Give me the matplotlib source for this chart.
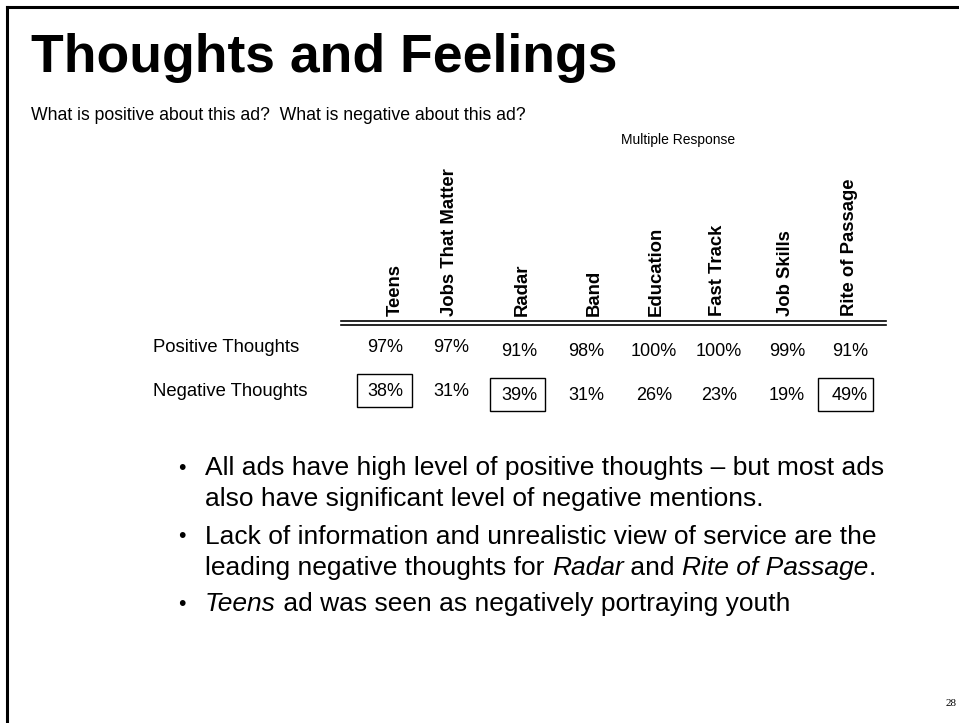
import matplotlib
matplotlib.use("Agg")
import matplotlib.pyplot as plt
from matplotlib.patches import Rectangle

plt.rcParams['font.family'] = ['Liberation Sans', 'DejaVu Sans']

# table contents
ads = ['Teens', 'Jobs That Matter', 'Radar', 'Band', 'Education',
       'Fast Track', 'Job Skills', 'Rite of Passage']
positive = [97, 97, 91, 98, 100, 100, 99, 91]
negative = [38, 31, 39, 31, 26, 23, 19, 49]
flagged = [True, False, True, False, False, False, False, True]
row_labels = ['Positive Thoughts', 'Negative Thoughts']

title = 'Thoughts and Feelings'
question = 'What is positive about this ad?  What is negative about this ad?'
note = 'Multiple Response'
page_no = '28'

# bullet text, split into (text, style) runs so ad names can be italic
bullets = [
    [[('All ads have high level of positive thoughts \u2013 but most ads', 'normal')],
     [('also have significant level of negative mentions.', 'normal')]],
    [[('Lack of information and unrealistic view of service are the', 'normal')],
     [('leading negative thoughts for ', 'normal'), ('Radar', 'italic'),
      (' and ', 'normal'), ('Rite of Passage', 'italic'), ('.', 'normal')]],
    [[('Teens', 'italic'), (' ad was seen as negatively portraying youth', 'normal')]],
]

# layout (pixel units, y down)
W, H = 959, 723
head_x = [395, 450, 522, 594, 656, 718, 785, 850]
val_x = [385, 451, 519, 586, 654, 719, 787, 850]
val_dy = [0, 0, 4, 4, 4, 4, 4, 4]
box_dx = [0, 0, -1, 0, 0, 0, 0, -4]
row_y = [347, 391]

fig = plt.figure(figsize=(W / 100, H / 100), dpi=100)
ax = fig.add_axes([0, 0, 1, 1])
ax.set_xlim(0, W)
ax.set_ylim(H, 0)
ax.axis('off')
renderer = fig.canvas.get_renderer()

# slide frame (left and top edges)
ax.plot([7, 7], [7, H + 5], color='black', lw=2.2, solid_capstyle='projecting')
ax.plot([7, W + 5], [7, 7], color='black', lw=2.2, solid_capstyle='projecting')

ax.text(31, 72, title, fontsize=38.5, fontweight='bold', va='baseline', ha='left')
ax.text(31, 115, question, fontsize=12.7, va='center', ha='left')
ax.text(678, 140, note, fontsize=10, va='center', ha='center')

# column headers
for x, name in zip(head_x, ads):
    ax.text(x, 316, name, rotation=90, fontsize=13.3, fontweight='bold',
            ha='center', va='bottom')

# double rule under the headers
for y in (321, 325):
    ax.plot([341, 886], [y, y], color='black', lw=1.2)

# row labels and values
for y, lab in zip(row_y, row_labels):
    ax.text(153, y, lab, fontsize=13.3, va='center', ha='left')

for i in range(len(ads)):
    ax.text(val_x[i], row_y[0] + val_dy[i], f'{positive[i]}%', fontsize=13,
            ha='center', va='center')
    yn = row_y[1] + val_dy[i]
    ax.text(val_x[i], yn, f'{negative[i]}%', fontsize=13,
            ha='center', va='center')
    if flagged[i]:
        ax.add_patch(Rectangle((val_x[i] + box_dx[i] - 28, yn - 17), 55, 33,
                               fill=False, edgecolor='black', lw=1.0))


def run_width(txt, style, size):
    # width including leading/trailing spaces
    a = ax.text(0, 0, 'a' + txt + 'a', fontsize=size, style=style)
    b = ax.text(0, 0, 'aa', fontsize=size, style=style)
    w = a.get_window_extent(renderer).width - b.get_window_extent(renderer).width
    a.remove()
    b.remove()
    return w


bsize = 19
line_y = [[468, 499], [537, 568], [604]]
for lines, ys in zip(bullets, line_y):
    ax.text(182, ys[0], '\u2022', fontsize=bsize * 0.8, ha='center', va='center')
    for runs, y in zip(lines, ys):
        x = 205
        for txt, style in runs:
            ax.text(x, y, txt, fontsize=bsize, style=style, ha='left', va='center')
            x += run_width(txt, style, bsize)

ax.text(951, 703, page_no, fontsize=8, family='Liberation Serif',
        ha='center', va='center')

fig.savefig('out.png', dpi=100, facecolor='white')
